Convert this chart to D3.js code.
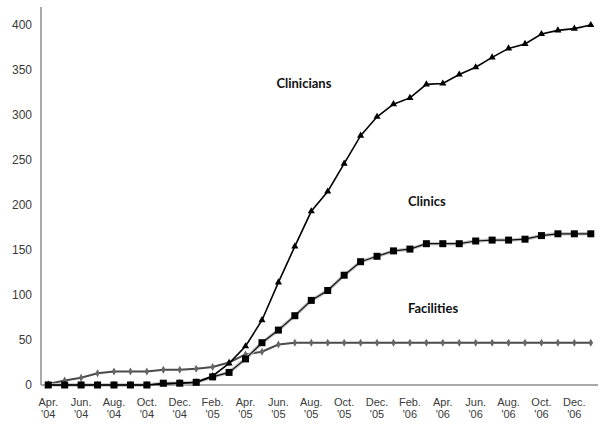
<!DOCTYPE html>
<html><head><meta charset="utf-8">
<script src="https://cdn.jsdelivr.net/npm/d3@7"></script>
<style>body{margin:0;background:#fff}svg{display:block}</style>
</head><body>
<script>
const months = ["Apr. '04","May '04","Jun. '04","Jul. '04","Aug. '04","Sep. '04","Oct. '04","Nov. '04","Dec. '04",
"Jan. '05","Feb. '05","Mar. '05","Apr. '05","May '05","Jun. '05","Jul. '05","Aug. '05","Sep. '05","Oct. '05","Nov. '05","Dec. '05",
"Jan. '06","Feb. '06","Mar. '06","Apr. '06","May '06","Jun. '06","Jul. '06","Aug. '06","Sep. '06","Oct. '06","Nov. '06","Dec. '06","Jan. '07"];
const clinicians = [0,0,0,0,0,0,0,1,2,3,10,24,43,72,114,154,193,215,246,277,298,312,319,334,335,345,353,364,374,379,390,394,396,400];
const clinics = [0,0,0,0,0,0,0,2,2,3,9,14,29,47,61,77,94,105,122,137,143,149,151,157,157,157,160,161,161,162,166,168,168,168];
const facilities = [1,5,8,13,15,15,15,17,17,18,20,25,34,37,45,47,47,47,47,47,47,47,47,47,47,47,47,47,47,47,47,47,47,47];
const yTicks = [0,50,100,150,200,250,300,350,400];
const seriesLabels = [
  {name:"Clinicians", month:"Jun. '05", value:335},
  {name:"Clinics", month:"Feb. '06", value:203},
  {name:"Facilities", month:"Feb. '06", value:84}
];

const W = 600, H = 428;
const svg = d3.select("body").append("svg").attr("width", W).attr("height", H);
const x = d3.scalePoint().domain(months).range([40, 599]).padding(0.5);
const y = d3.scaleLinear().domain([0, 420]).range([385, 7]);

// axes
svg.append("line").attr("x1", 41).attr("x2", 41).attr("y1", y(420)).attr("y2", y(0))
  .attr("stroke", "#8c8c8c").attr("stroke-width", 1.5);
svg.append("line").attr("x1", 41).attr("x2", 598).attr("y1", y(0)).attr("y2", y(0))
  .attr("stroke", "#8c8c8c").attr("stroke-width", 1.5);

svg.selectAll("text.yt").data(yTicks).enter().append("text")
  .attr("x", 32).attr("y", d => y(d) + 4).attr("text-anchor", "end")
  .attr("font-family", "Liberation Sans, Arial, sans-serif").attr("font-size", 12)
  .attr("fill", "#3a3a3a").text(d => d);

const xl = svg.selectAll("text.xt").data(months.filter((m, i) => i % 2 === 0)).enter().append("text")
  .attr("text-anchor", "middle")
  .attr("font-family", "Liberation Sans, Arial, sans-serif").attr("font-size", 11)
  .attr("fill", "#3a3a3a");
xl.append("tspan").attr("x", d => x(d)).attr("y", 406).text(d => d.split(" ")[0]);
xl.append("tspan").attr("x", d => x(d)).attr("y", 418).text(d => d.split(" ")[1]);

const line = d3.line().x((d, i) => x(months[i])).y(d => y(d));

// Facilities
svg.append("path").datum(facilities).attr("d", line).attr("fill", "none")
  .attr("stroke", "#4a4a4a").attr("stroke-width", 2);
svg.selectAll("path.fd").data(facilities).enter().append("path")
  .attr("d", d3.symbol().type(d3.symbolDiamond).size(18))
  .attr("transform", (d, i) => `translate(${x(months[i])},${y(d)})`)
  .attr("fill", "#666");

// Clinics
svg.append("path").datum(clinics).attr("d", line).attr("fill", "none")
  .attr("stroke", "#c4c4c4").attr("stroke-width", 3.5);
svg.append("path").datum(clinics).attr("d", line).attr("fill", "none")
  .attr("stroke", "#111").attr("stroke-width", 1.2);
svg.selectAll("rect.cs").data(clinics).enter().append("rect")
  .attr("x", (d, i) => x(months[i]) - 3.5).attr("y", d => y(d) - 3.5)
  .attr("width", 7).attr("height", 7).attr("fill", "#000");

// Clinicians
svg.append("path").datum(clinicians).attr("d", line).attr("fill", "none")
  .attr("stroke", "#000").attr("stroke-width", 1.6);
svg.selectAll("path.ct").data(clinicians).enter().append("path")
  .attr("d", d3.symbol().type(d3.symbolTriangle).size(22))
  .attr("transform", (d, i) => `translate(${x(months[i])},${y(d)})`)
  .attr("fill", "#000");

svg.selectAll("text.lbl").data(seriesLabels).enter().append("text")
  .attr("x", d => x(d.month) - 2).attr("y", d => y(d.value) + 4)
  .attr("font-family", "Lato, 'Open Sans', sans-serif").attr("font-weight", "bold")
  .attr("font-size", 13).attr("fill", "#111").text(d => d.name);
</script>
</body></html>
